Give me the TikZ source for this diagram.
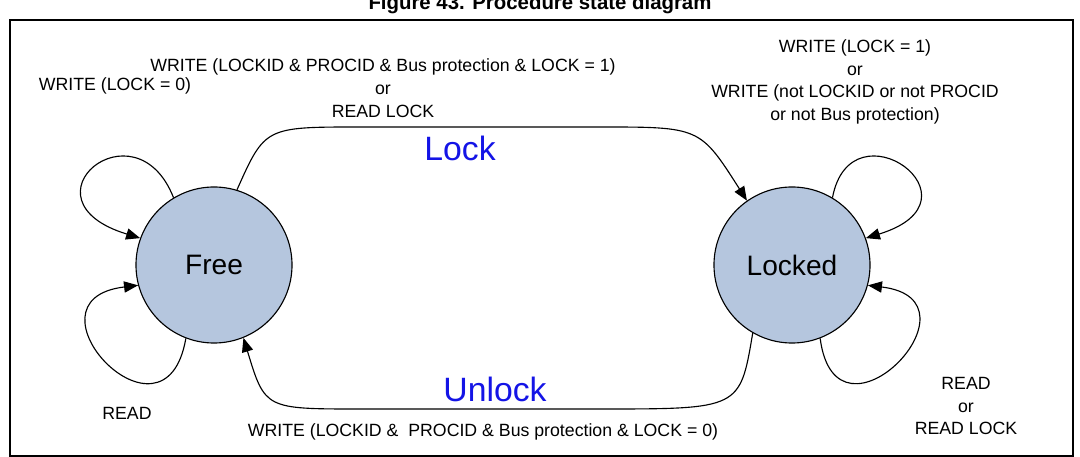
\documentclass[tikz,border=0pt]{standalone}
\usepackage{fontspec}
\setmainfont{Liberation Sans}
\usetikzlibrary{positioning}
\usetikzlibrary{arrows.meta}

\begin{document}
\begin{tikzpicture}[x=0.025cm, y=-0.025cm,
  state/.style={circle, draw, thick, fill={rgb,255:red,181;green,198;blue,222}, minimum size=3.9cm, font=\fontsize{20}{24}\selectfont},
  lbl/.style={font=\fontsize{12.6}{16.2}\selectfont, align=center},
  big/.style={font=\fontsize{24}{28}\selectfont, text={rgb,255:red,20;green,20;blue,230}},
  trans/.style={thick, -{Triangle[length=10pt,width=8pt]}}]

\useasboundingbox (0,0) rectangle (1080,457);
\draw[thick] (10,20) rectangle (1073,456);

\node[font=\bfseries\fontsize{14.5}{17}\selectfont] (title) at (540,4) {Figure 43. Procedure state diagram};

\node[state] (free) at (214,265) {Free};
\node[state] (locked) at (792,265) {Locked};

% transitions
\draw[trans] (free.73) .. controls (265,127) .. (360,127) -- (600,127) .. controls (700,127) .. (locked.125);
\draw[trans] (locked.240) .. controls (740,409) .. (600,409) -- (360,409) .. controls (265,409) .. (free.292);

% self loops
\draw[trans] (free.121) .. controls (135,100) and (15,200) .. (free.160);
\draw[trans] (free.249) .. controls (165,460) and (15,300) .. (free.195);
\draw[trans] (locked.59) .. controls (851,100) and (990,200) .. (locked.20);
\draw[trans] (locked.291) .. controls (836,460) and (990,300) .. (locked.345);

% labels
\node[lbl] (lfree) at (115,86) {WRITE (LOCK = 0)};
\node[lbl] (llock) at (383,88) {WRITE (LOCKID \& PROCID \& Bus protection \& LOCK = 1)\\or\\READ LOCK};
\node[big] (tlock) at (460,148) {Lock};
\node[lbl] (lkeep) at (855,82) {WRITE (LOCK = 1)\\or\\WRITE (not LOCKID or not PROCID\\or not Bus protection)};
\node[lbl] (lread) at (127,413) {READ};
\node[lbl] (lreadl) at (966,406) {READ\\or\\READ LOCK};
\node[big] (tunlock) at (495,389) {Unlock};
\node[lbl] (lunlock) at (483,432) {WRITE (LOCKID \&\ \ PROCID \& Bus protection \& LOCK = 0)};

\end{tikzpicture}
\end{document}
